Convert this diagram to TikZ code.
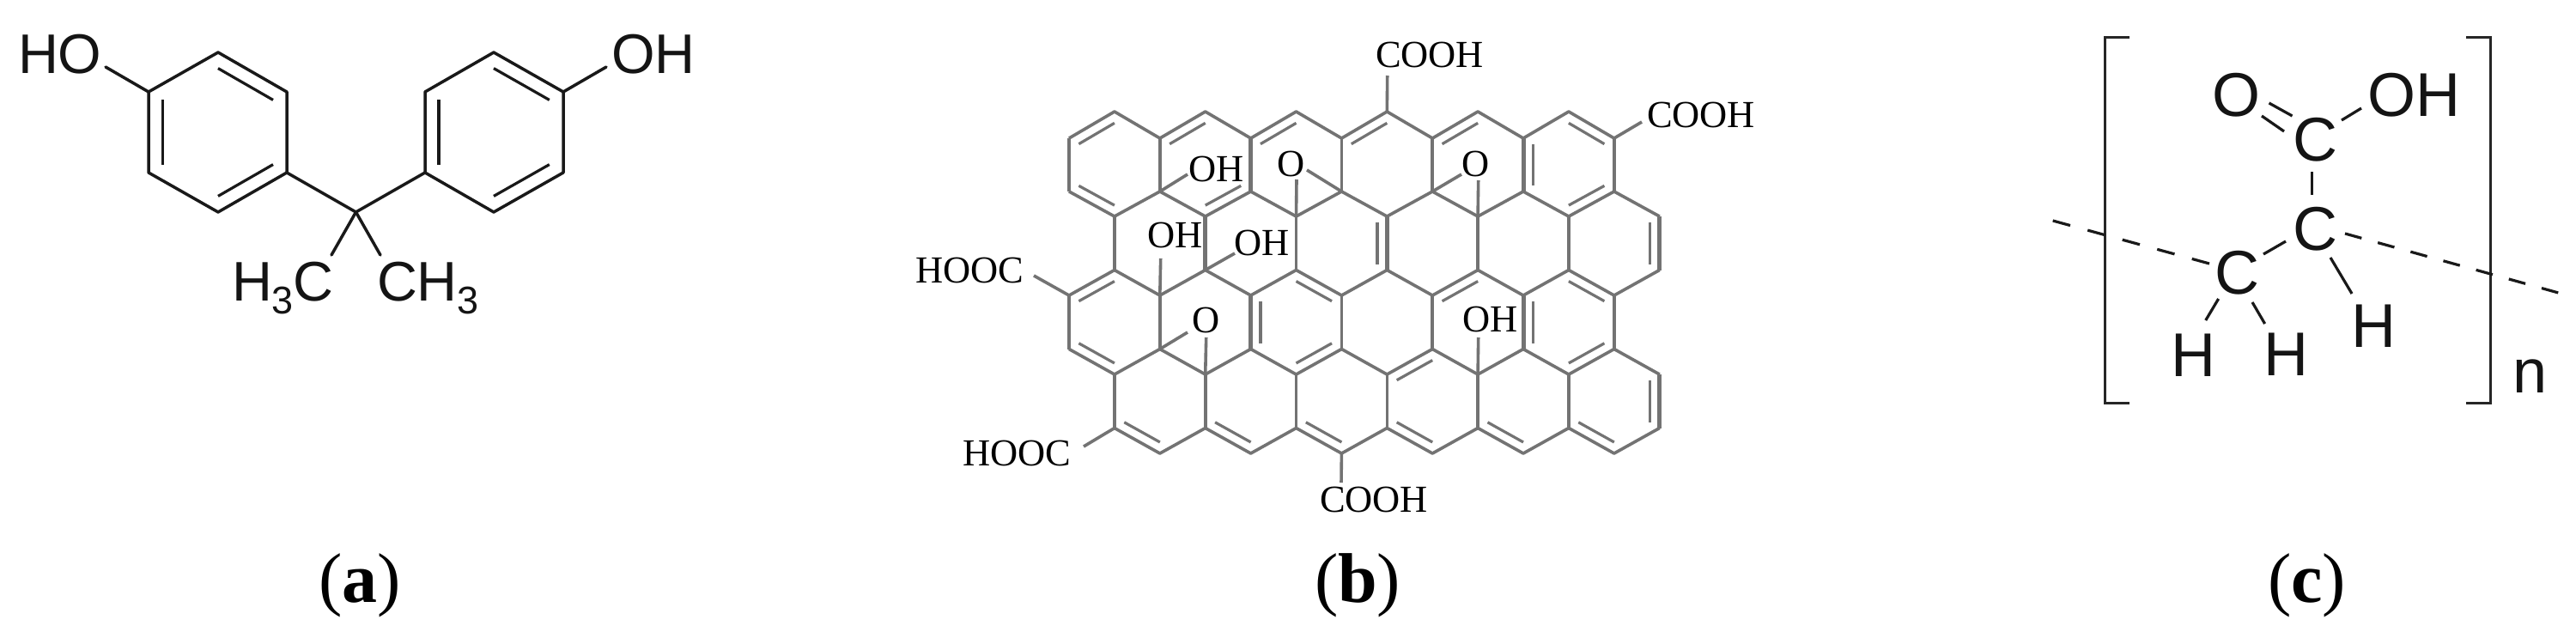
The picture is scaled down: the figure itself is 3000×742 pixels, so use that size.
\documentclass[tikz,border=0pt]{standalone}
\usepackage{fontspec}
\usetikzlibrary{calc}
\setmainfont{Liberation Sans}
\newfontfamily\tnr{Liberation Serif}
\newcommand\fsz[1]{\fontsize{#1}{#1}\selectfont}
\newcommand\inbond[4][0.215]{\draw[innerbond] ($(#2)!#1!(#4)$) -- ($(#3)!#1!(#4)$);}
\tikzset{
  lbl/.style={inner sep=0pt,outer sep=0pt,anchor=base west},
  lblA/.style={lbl,font=\fsz{65}\selectfont,text=black!92},
  lblB/.style={lbl,font=\tnr\fsz{44.5}\selectfont,text=black},
  lblC/.style={lbl,font=\fsz{72}\selectfont,text=black!92},
  lblD/.style={lbl,font=\tnr\fsz{82}\selectfont,text=black},
  bondA/.style={draw=black!90,line width=3.5pt,line cap=round,line join=round},
  bondG/.style={draw=black!55,line width=3.6pt,line join=round},
  boldG/.style={draw=black!55,line width=5pt,line join=round},
  innerbond/.style={draw=black!55,line width=3.2pt},
  bondC/.style={draw=black!90,line width=3.2pt},
  brack/.style={draw=black!85,line width=3.4pt,line join=miter},
}
\begin{document}
\begin{tikzpicture}[x=1pt,y=-1pt]
\useasboundingbox (0,0) rectangle (3000,742);
\fill[white] (0,0) rectangle (3000,742);

% ---------- panel a
\coordinate (a1) at (254,61);  \coordinate (a2) at (334,107); \coordinate (a3) at (334,201);
\coordinate (a4) at (254,247); \coordinate (a5) at (173,201); \coordinate (a6) at (173,107);
\coordinate (ac) at (254,154);
\coordinate (b1) at (575,61);  \coordinate (b2) at (656,107); \coordinate (b3) at (656,201);
\coordinate (b4) at (575,247); \coordinate (b5) at (495,201); \coordinate (b6) at (495,107);
\coordinate (bc) at (575,154);
\coordinate (q) at (414.5,247);
\coordinate (me1) at (386,297); \coordinate (me2) at (443,297);
\coordinate (ho1) at (123,78);  \coordinate (ho2) at (706,78);
\draw[bondA] (a1)--(a2)--(a3)--(a4)--(a5)--(a6)--cycle;
\draw[bondA] (b1)--(b2)--(b3)--(b4)--(b5)--(b6)--cycle;
\draw[bondA] (a3)--(q)--(b5);
\draw[bondA] (q)--(me1);
\draw[bondA] (q)--(me2);
\draw[bondA] (a6)--(ho1);
\draw[bondA] (b2)--(ho2);
\tikzset{innerbond/.append style={draw=black!90}}
\inbond[0.2]{a1}{a2}{ac}\inbond[0.2]{a3}{a4}{ac}\inbond[0.2]{a5}{a6}{ac}
\inbond[0.2]{b1}{b2}{bc}\inbond[0.2]{b3}{b4}{bc}\inbond[0.2]{b5}{b6}{bc}
\tikzset{innerbond/.append style={draw=black!55}}
\node[lblA] (tHO) at (21,85) {HO};
\node[lblA] (tOH) at (712,85) {OH};
\node[lblA] (tH3C) at (270,350) {H{\fsz{45}\raisebox{-15pt}{3}}C};
\node[lblA] (tCH3) at (439,350) {CH{\fsz{45}\raisebox{-15pt}{3}}};

% ---------- panel b : lattice
\foreach \i in {0,...,13}{
  \foreach \r/\y in {0/130,1/161,2/223,3/252,4/314.5,5/344,6/406.5,7/436,8/498.5,9/528}{
    \coordinate (v\i-\r) at ({1245+52.9*\i},\y);
  }
  \foreach \k/\y in {A/192,B/283.25,C/375.25,D/467.25}{
    \coordinate (c\i-\k) at ({1245+52.9*\i},\y);
  }
}
\foreach \p/\q/\s in {0/1/2,2/3/4,4/5/6,6/7/8,8/9/10,10/11/12}{
  \draw[bondG] (v\p-1)--(v\q-0)--(v\s-1);
  \draw[bondG] (v\p-2)--(v\q-3)--(v\s-2);
  \draw[bondG] (v\p-5)--(v\q-4)--(v\s-5);
  \draw[bondG] (v\p-6)--(v\q-7)--(v\s-6);
}
\draw[bondG] (v12-2)--(v13-3);
\draw[bondG] (v12-5)--(v13-4);
\draw[bondG] (v12-6)--(v13-7);
\foreach \p/\q/\s in {1/2/3,3/4/5,5/6/7,7/8/9,9/10/11,11/12/13}{
  \draw[bondG] (v\p-8)--(v\q-9)--(v\s-8);
}
\foreach \i in {0,2,...,12}{
  \draw[bondG] (v\i-1)--(v\i-2);
  \draw[bondG] (v\i-5)--(v\i-6);
}
\foreach \i in {1,3,...,13}{
  \draw[bondG] (v\i-3)--(v\i-4);
  \draw[bondG] (v\i-7)--(v\i-8);
}
% heavier verticals
\draw[boldG] (v4-1)--(v4-2);
\draw[boldG] (v10-1)--(v10-2);
\draw[boldG] (v3-3)--(v3-4);
\draw[boldG] (v7-3)--(v7-4);
\draw[boldG] (v13-3)--(v13-4);
\draw[boldG] (v4-5)--(v4-6);
\draw[boldG] (v10-5)--(v10-6);
\draw[boldG] (v13-7)--(v13-8);
% inner lines of double bonds
\inbond{v0-1}{v1-0}{c1-A}\inbond{v0-2}{v1-3}{c1-A}
\inbond{v2-1}{v3-0}{c3-A}\inbond{v3-3}{v4-2}{c3-A}
\inbond{v4-1}{v5-0}{c5-A}
\inbond{v6-1}{v7-0}{c7-A}
\inbond{v8-1}{v9-0}{c9-A}
\inbond{v11-0}{v12-1}{c11-A}\inbond{v10-1}{v10-2}{c11-A}\inbond{v11-3}{v12-2}{c11-A}
\inbond{v7-3}{v7-4}{c6-B}\inbond{v13-3}{v13-4}{c12-B}
\inbond{v0-5}{v1-4}{c1-C}\inbond{v0-6}{v1-7}{c1-C}
\inbond{v4-5}{v4-6}{c5-C}\inbond{v5-4}{v6-5}{c5-C}\inbond{v5-7}{v6-6}{c5-C}
\inbond{v8-5}{v9-4}{c9-C}
\inbond{v11-4}{v12-5}{c11-C}\inbond{v10-5}{v10-6}{c11-C}\inbond{v11-7}{v12-6}{c11-C}
\inbond{v7-7}{v8-6}{c8-D}\inbond{v13-7}{v13-8}{c12-D}
\inbond{v1-8}{v2-9}{c2-D}\inbond{v3-8}{v4-9}{c4-D}\inbond{v5-8}{v6-9}{c6-D}
\inbond{v7-8}{v8-9}{c8-D}\inbond{v9-8}{v10-9}{c10-D}\inbond{v11-8}{v12-9}{c12-D}
% substituents
\coordinate (e1) at (1615.7,88);  \coordinate (e2) at (1912,142);
\coordinate (e3) at (1204,321);   \coordinate (e4) at (1262,520);
\coordinate (e5) at (1562,562);   \coordinate (e6) at (1383,203);
\coordinate (e7) at (1351.7,301); \coordinate (e8) at (1438,295);
\coordinate (e9) at (1510,209);   \coordinate (e10) at (1522,198);
\coordinate (e11) at (1702,203);  \coordinate (e12) at (1721.7,210);
\coordinate (e13) at (1383,387);  \coordinate (e14) at (1404.7,393);
\coordinate (e15) at (1721.7,393);
\draw[bondG] (v7-0)--(e1);
\draw[bondG] (v12-1)--(e2);
\draw[bondG] (v0-5)--(e3);
\draw[bondG] (v1-8)--(e4);
\draw[bondG] (v6-9)--(e5);
\draw[bondG] (v2-2)--(e6);
\draw[bondG] (v2-5)--(e7);
\draw[bondG] (v3-4)--(e8);
\draw[bondG] (v5-3)--(e9);
\draw[bondG] (v6-2)--(e10);
\draw[bondG] (v8-2)--(e11);
\draw[bondG] (v9-3)--(e12);
\draw[bondG] (v2-6)--(e13);
\draw[bondG] (v3-7)--(e14);
\draw[bondG] (v9-7)--(e15);
\node[lblB] (cooh1) at (1602,78) {COOH};
\node[lblB] (cooh2) at (1918,148) {COOH};
\node[lblB] (cooh3) at (1537,596) {COOH};
\node[lblB] (hooc1) at (1066,329) {HOOC};
\node[lblB] (hooc2) at (1121,542) {HOOC};
\node[lblB] (oh1) at (1384,211) {OH};
\node[lblB] (oh2) at (1336,288) {OH};
\node[lblB] (oh3) at (1437,297) {OH};
\node[lblB] (oh4) at (1703,386) {OH};
\node[lblB] (ox1) at (1487,205) {O};
\node[lblB] (ox2) at (1702,205) {O};
\node[lblB] (ox3) at (1388,387) {O};

% ---------- panel c
\coordinate (bl1) at (2480,43.3);  \coordinate (bl2) at (2451.7,43.3);
\coordinate (bl3) at (2451.7,469.3); \coordinate (bl4) at (2480,469.3);
\coordinate (br1) at (2872,43.3);  \coordinate (br2) at (2900.6,43.3);
\coordinate (br3) at (2900.6,469.3); \coordinate (br4) at (2872,469.3);
\draw[brack] (bl1)--(bl2)--(bl3)--(bl4);
\draw[brack] (br1)--(br2)--(br3)--(br4);
\node[lblC] (tO) at (2576,135) {O};
\node[lblC] (tOHc) at (2757,135) {OH};
\node[lblC] (C1) at (2670,187) {C};
\node[lblC] (C2) at (2670,291) {C};
\node[lblC] (C3) at (2579,342) {C};
\node[lblC] (H1) at (2738,404) {H};
\node[lblC] (H2) at (2528,438) {H};
\node[lblC] (H3) at (2636,437) {H};
\node[lblC] (tn) at (2926,457) {n};
\coordinate (d1) at (2642.5,120); \coordinate (d2) at (2669.5,135);
\coordinate (d3) at (2634,135);   \coordinate (d4) at (2660,153);
\coordinate (d5) at (2727,140);   \coordinate (d6) at (2750,126);
\coordinate (d7) at (2692.7,200); \coordinate (d8) at (2692.7,227);
\coordinate (d9) at (2636,296);   \coordinate (d10) at (2662,281);
\coordinate (d11) at (2714,300);  \coordinate (d12) at (2739,342);
\coordinate (d13) at (2583.6,348);\coordinate (d14) at (2568.7,373);
\coordinate (d15) at (2623,352);  \coordinate (d16) at (2637.6,377);
\coordinate (d17) at (2390.7,257);\coordinate (d18) at (2573,307);
\coordinate (d19) at (2731,272);  \coordinate (d20) at (2979.5,341);
\draw[bondC] (d1)--(d2);
\draw[bondC] (d3)--(d4);
\draw[bondC] (d5)--(d6);
\draw[bondC] (d7)--(d8);
\draw[bondC] (d9)--(d10);
\draw[bondC] (d11)--(d12);
\draw[bondC] (d13)--(d14);
\draw[bondC] (d15)--(d16);
\draw[bondC,dash pattern=on 21pt off 21pt] (d17)--(d18);
\draw[bondC,dash pattern=on 20pt off 19.6pt] (d19)--(d20);

% ---------- captions
\node[lblD] (capa) at (371,701) {(\textbf{a})};
\node[lblD] (capb) at (1531,701) {(\textbf{b})};
\node[lblD] (capc) at (2641,701) {(\textbf{c})};
\end{tikzpicture}
\end{document}
